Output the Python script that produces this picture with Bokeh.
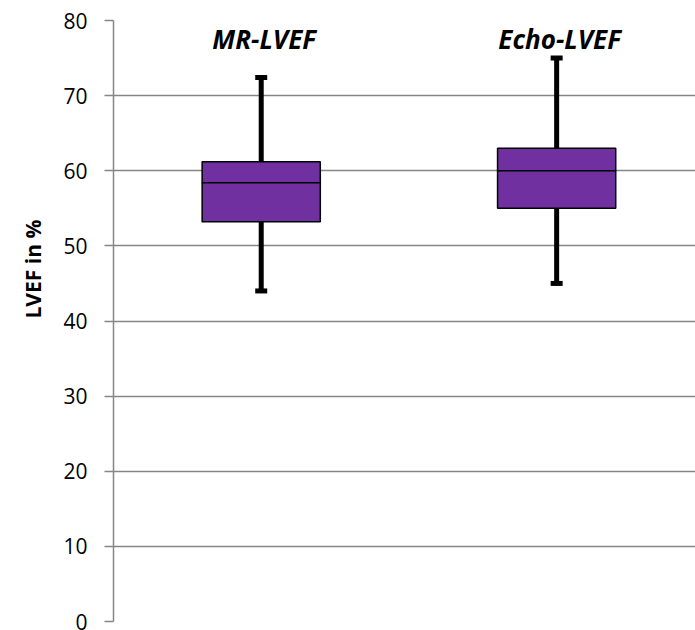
from bokeh.plotting import figure
from bokeh.models import Range1d, FixedTicker, Title, ColumnDataSource
from bokeh.core.properties import value
from bokeh.embed import file_html
from bokeh.resources import INLINE

# LVEF (%) box-plot summary for the two measurement methods
categories = ["MR-LVEF", "Echo-LVEF"]
whisker_low = [44.0, 45.0]
q1 = [53.2, 55.0]
median = [58.4, 60.0]
q3 = [61.2, 63.0]
whisker_high = [72.4, 75.0]
y_ticks = [0, 10, 20, 30, 40, 50, 60, 70, 80]

xs = [i + 0.5 for i in range(len(categories))]
src = ColumnDataSource(dict(x=xs, cat=categories, lo=whisker_low, q1=q1,
                            med=median, q3=q3, hi=whisker_high,
                            label_y=[77.6] * len(categories)))

GRAY = "#868686"
PURPLE = "#7030A0"

p = figure(width=695, height=630, output_backend="svg", toolbar_location=None,
           x_range=Range1d(0, 1.97), y_range=Range1d(0, 80),
           min_border_left=113, min_border_right=0, min_border_top=20,
           min_border_bottom=9)
p.outline_line_color = None
p.background_fill_color = "white"
p.xaxis.visible = False
p.xgrid.visible = False

ya = p.yaxis[0]
ya.ticker = FixedTicker(ticks=y_ticks)
ya.axis_line_color = GRAY
ya.axis_line_width = 1.5
ya.major_tick_line_color = GRAY
ya.major_tick_line_width = 1.5
ya.major_tick_out = 9
ya.major_tick_in = 0
ya.minor_tick_line_color = None
ya.major_label_standoff = 17
ya.major_label_text_font = "Open Sans"
ya.major_label_text_font_size = "21px"
ya.major_label_text_color = "black"

p.ygrid.ticker = FixedTicker(ticks=y_ticks)
p.ygrid.grid_line_color = GRAY
p.ygrid.grid_line_width = 1.5

# whiskers, caps, boxes, medians
p.segment(x0="x", y0="lo", x1="x", y1="hi", source=src, line_color="black", line_width=5)
p.rect(x="x", y="hi", width=12, height=5, width_units="screen", height_units="screen",
       source=src, fill_color="black", line_color=None)
p.rect(x="x", y="lo", width=12, height=5, width_units="screen", height_units="screen",
       source=src, fill_color="black", line_color=None)
p.vbar(x="x", width=0.40, bottom="q1", top="q3", source=src, fill_color=PURPLE,
       line_color="black", line_width=1.5)
p.rect(x="x", y="med", width=0.40, height=0.01, source=src, fill_color=None,
       line_color="black", line_width=1.5)

p.text(x="x", y="label_y", text="cat", source=src, text_align="center",
       text_baseline="middle", text_font=value("Open Sans"),
       text_font_style="bold italic", text_font_size="26px", text_color="black",
       x_offset=3)

# vertical axis title, placed in the left margin
p.add_layout(Title(text="LVEF in %", align="left", offset=303, standoff=28,
                   text_font="Open Sans", text_font_style="bold",
                   text_font_size="21px", text_color="black"), "left")

open("out.html", "w").write(file_html(p, INLINE))
